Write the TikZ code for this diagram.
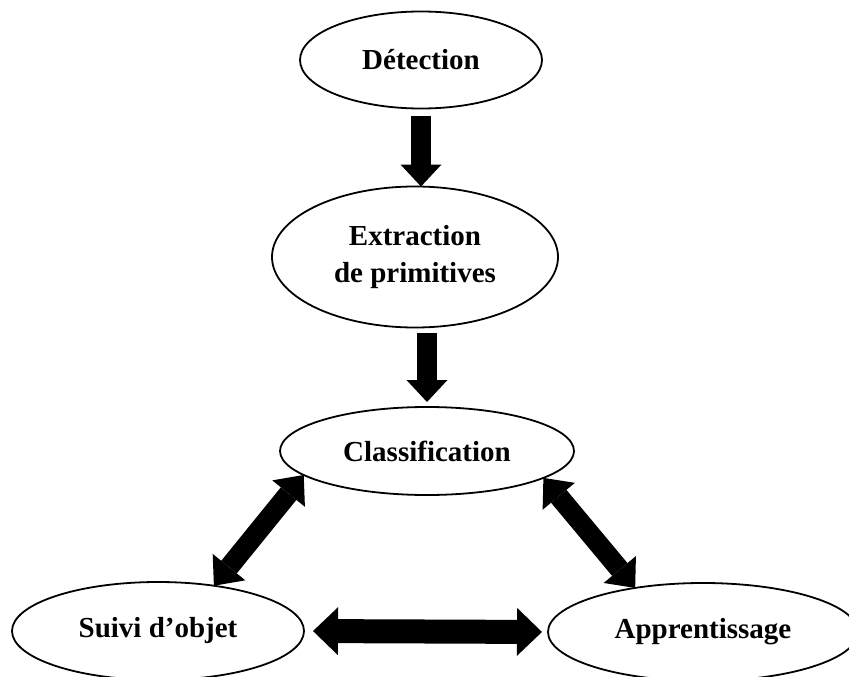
\documentclass[tikz,border=0pt]{standalone}
\usepackage{fontspec}
\setmainfont{Liberation Serif}
\usetikzlibrary{arrows.meta,shapes.geometric}
\begin{document}
\begin{tikzpicture}[x=1pt,y=-1pt,
  ell/.style={ellipse,draw,line width=1.8pt,inner sep=0pt,outer sep=0pt,align=center,
    font=\fontsize{29}{36.7}\selectfont\bfseries},
  vblock/.style={line width=20pt,-{Triangle[length=22pt,width=41pt,line width=0pt]}},
  dblock/.style={line width=20pt,{Triangle[length=24pt,width=42pt,line width=0pt]}-{Triangle[length=24pt,width=42pt,line width=0pt]}},
  hblock/.style={line width=24pt,{Triangle[length=25pt,width=48pt,line width=0pt]}-{Triangle[length=25pt,width=48pt,line width=0pt]}}
]
\fill[white] (0,0) rectangle (849,677);
\useasboundingbox (0,0) rectangle (849,677);

\node[ell,minimum width=242pt,minimum height=97pt] (det) at (421,60) {Détection};
\node[ell,minimum width=286pt,minimum height=141pt] (ext) at (415,257) {Extraction\\de primitives};
\node[ell,minimum width=294pt,minimum height=88pt] (cls) at (427,451) {Classification};
\node[ell,minimum width=292pt,minimum height=98pt] (suivi) at (158,631) {Suivi d’objet};
\node[ell,minimum width=310pt,minimum height=98pt] (app) at (703,632) {Apprentissage};

\draw[vblock,shorten <=7pt] (det.south) -- (det.south |- ext.north);
\draw[vblock,shorten <=5.5pt,shorten >=5pt] (cls.north |- ext.south) -- (cls.north);
\draw[dblock] (cls.191) -- (suivi.39);
\draw[dblock] (cls.347) -- (app.147);
\draw[hblock,shorten <=9pt,shorten >=6pt] (suivi.east) -- (app.west);
\end{tikzpicture}
\end{document}
